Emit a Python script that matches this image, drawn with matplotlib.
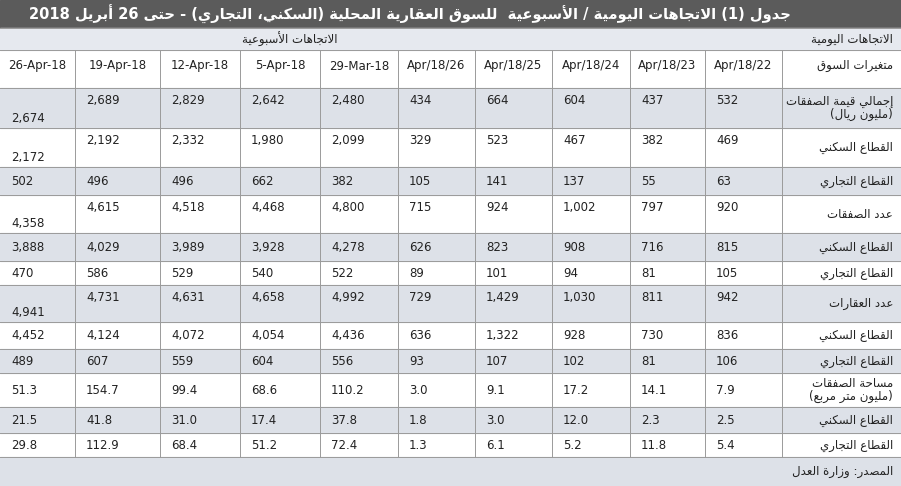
import unicodedata
import matplotlib
matplotlib.use("Agg")
import matplotlib.pyplot as plt

# ---- data ----
columns = ["26-Apr-18", "19-Apr-18", "12-Apr-18", "5-Apr-18", "29-Mar-18",
           "Apr/18/26", "Apr/18/25", "Apr/18/24", "Apr/18/23", "Apr/18/22"]
row_labels = ["إجمالي قيمة الصفقات\n(مليون ريال)", "القطاع السكني", "القطاع التجاري",
              "عدد الصفقات", "القطاع السكني", "القطاع التجاري",
              "عدد العقارات", "القطاع السكني", "القطاع التجاري",
              "مساحة الصفقات\n(مليون متر مربع)", "القطاع السكني", "القطاع التجاري"]
values = [
    ["2,674", "2,689", "2,829", "2,642", "2,480", "434", "664", "604", "437", "532"],
    ["2,172", "2,192", "2,332", "1,980", "2,099", "329", "523", "467", "382", "469"],
    ["502", "496", "496", "662", "382", "105", "141", "137", "55", "63"],
    ["4,358", "4,615", "4,518", "4,468", "4,800", "715", "924", "1,002", "797", "920"],
    ["3,888", "4,029", "3,989", "3,928", "4,278", "626", "823", "908", "716", "815"],
    ["470", "586", "529", "540", "522", "89", "101", "94", "81", "105"],
    ["4,941", "4,731", "4,631", "4,658", "4,992", "729", "1,429", "1,030", "811", "942"],
    ["4,452", "4,124", "4,072", "4,054", "4,436", "636", "1,322", "928", "730", "836"],
    ["489", "607", "559", "604", "556", "93", "107", "102", "81", "106"],
    ["51.3", "154.7", "99.4", "68.6", "110.2", "3.0", "9.1", "17.2", "14.1", "7.9"],
    ["21.5", "41.8", "31.0", "17.4", "37.8", "1.8", "3.0", "12.0", "2.3", "2.5"],
    ["29.8", "112.9", "68.4", "51.2", "72.4", "1.3", "6.1", "5.2", "11.8", "5.4"],
]
title = "جدول (1) الاتجاهات اليومية / الأسبوعية  للسوق العقارية المحلية (السكني، التجاري) - حتى 26 أبريل 2018"
label_head = "متغيرات السوق"
daily_head = "الاتجاهات اليومية"
weekly_head = "الاتجاهات الأسبوعية"
source = "المصدر: وزارة العدل"

# ---- simple arabic shaping + visual ordering ----
NONJOIN = set("اأإآدذرزوؤةىء")
ALEFS = {"ا": "", "أ": " WITH HAMZA ABOVE", "إ": " WITH HAMZA BELOW", "آ": " WITH MADDA ABOVE"}


def is_ar(c):
    return "\u0621" <= c <= "\u064A" or c == "LA"


def form(c, suffix):
    try:
        return unicodedata.lookup(unicodedata.name(c) + suffix)
    except (KeyError, ValueError):
        return c


def shape_line(s):
    toks = []
    i = 0
    while i < len(s):
        if s[i] == "ل" and i + 1 < len(s) and s[i + 1] in ALEFS:
            toks.append(("LA", s[i + 1]))
            i += 2
        else:
            toks.append((s[i], None))
            i += 1
    out = []
    for k, (c, alef) in enumerate(toks):
        prev = toks[k - 1][0] if k > 0 else " "
        nxt = toks[k + 1][0] if k + 1 < len(toks) else " "
        pj = is_ar(prev) and prev not in NONJOIN and prev != "LA"
        if c == "LA":
            name = "ARABIC LIGATURE LAM WITH ALEF" + ALEFS[alef]
            out.append(unicodedata.lookup(name + (" FINAL FORM" if pj else " ISOLATED FORM")))
            continue
        if not is_ar(c):
            out.append(c)
            continue
        nj = is_ar(nxt) and c not in NONJOIN
        if pj and nj:
            f = form(c, " MEDIAL FORM")
        elif pj:
            f = form(c, " FINAL FORM")
        elif nj:
            f = form(c, " INITIAL FORM")
        else:
            f = form(c, " ISOLATED FORM")
        out.append(f)
    vis = "".join(out)[::-1]
    # re-reverse left-to-right runs (digits, latin)
    res, run = [], ""
    ltr = set("0123456789ABCDEFGHIJKLMNOPQRSTUVWXYZabcdefghijklmnopqrstuvwxyz.,/")
    for ch in vis:
        if ch in ltr:
            run += ch
        else:
            res.append(run[::-1])
            run = ""
            res.append({"(": ")", ")": "("}.get(ch, ch))
    res.append(run[::-1])
    return "".join(res)


def ar(s):
    return "\n".join(shape_line(l) for l in s.split("\n"))


# ---- layout ----
plt.rcParams["font.family"] = ["DejaVu Sans"]
W, H = 901, 486
fig = plt.figure(figsize=(W / 100, H / 100), dpi=100)
ax = fig.add_axes([0, 0, 1, 1])
ax.set_xlim(0, W)
ax.set_ylim(H, 0)
ax.axis("off")

col_x = [0, 75, 160, 240, 320, 398, 475, 552, 630, 705, 782, 901]
row_y = [88, 128, 167, 195, 233, 261, 285, 322, 349, 373, 407, 433, 457]
tall = {0, 1, 3, 6}
band = "#dde1e8"
txt = "#222222"

ax.add_patch(plt.Rectangle((0, 0), W, 28, color="#5b5b5b"))
ax.text(W - 110, 14, ar(title), ha="right", va="center", color="white",
        fontsize=10.5, fontweight="bold")
ax.add_patch(plt.Rectangle((0, 28), W, 22, color="#e6e9ef"))
ax.text(893, 40, ar(daily_head), ha="right", va="center", fontsize=8.5, color=txt)
ax.text(290, 39, ar(weekly_head), ha="center", va="center", fontsize=8.5, color=txt)

# header row
for j, c in enumerate(columns):
    ax.text((col_x[j] + col_x[j + 1]) / 2, 66, c, ha="center", va="center",
            fontsize=8.5, color=txt)
ax.text(893, 66, ar(label_head), ha="right", va="center", fontsize=8.5, color=txt)

# body rows
for i, lab in enumerate(row_labels):
    y0, y1 = row_y[i], row_y[i + 1]
    if i % 2 == 0:
        ax.add_patch(plt.Rectangle((0, y0), W, y1 - y0, color=band))
    ym = (y0 + y1) / 2
    ax.text(893, ym, ar(lab), ha="right", va="center", fontsize=8.5, color=txt,
            linespacing=0.95)
    for j, v in enumerate(values[i]):
        if i in tall:
            yy = y1 - 10 if j == 0 else y0 + 12
        else:
            yy = ym
        ax.text(col_x[j] + 11, yy, v, ha="left", va="center", fontsize=8.5, color=txt)

# footer
ax.add_patch(plt.Rectangle((0, 457), W, H - 457, color=band))
ax.text(893, 471, ar(source), ha="right", va="center", fontsize=8.5, color=txt)

# grid lines
for x in col_x[1:-1]:
    ax.plot([x, x], [50, 457], color="#9a9a9a", lw=0.7)
for y in [50, 88] + row_y[1:]:
    ax.plot([0, W], [y, y], color="#9a9a9a", lw=0.7)
ax.plot([0, W], [28, 28], color="#9a9a9a", lw=0.7)

fig.savefig("out.png", dpi=100)
